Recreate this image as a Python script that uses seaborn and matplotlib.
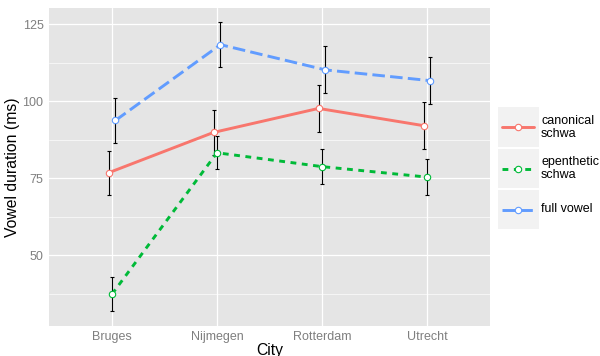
import pandas as pd
import seaborn as sns
import matplotlib.pyplot as plt
from matplotlib.patches import Rectangle
from matplotlib.lines import Line2D
from matplotlib.ticker import FixedLocator

# data
cities = ['Bruges', 'Nijmegen', 'Rotterdam', 'Utrecht']
vowel_types = ['canonical schwa', 'epenthetic schwa', 'full vowel']
legend_labels = ['canonical\nschwa', 'epenthetic\nschwa', 'full vowel']

canonical = [76.7, 89.8, 97.6, 92.0]
canonical_err = [7.2, 7.2, 7.6, 7.6]
epenthetic = [37.3, 83.2, 78.7, 75.3]
epenthetic_err = [5.5, 5.3, 5.8, 5.9]
full_vowel = [93.7, 118.3, 110.1, 106.6]
full_vowel_err = [7.2, 7.2, 7.6, 7.7]

colors = ['#F8766D', '#00BA38', '#619CFF']
styles = ['-', (0, (2.0, 1.9)), (0, (4.3, 1.8))]
dodge = [-0.033, 0.0, 0.033]

rows = []
for t, vals, errs in zip(vowel_types, [canonical, epenthetic, full_vowel],
                         [canonical_err, epenthetic_err, full_vowel_err]):
    for i, c in enumerate(cities):
        rows.append({'City': c, 'type': t, 'dur': vals[i], 'err': errs[i], 'idx': i})
df = pd.DataFrame(rows)

sns.set_theme(style='darkgrid', rc={
    'axes.facecolor': '#E5E5E5',
    'grid.color': 'white',
    'grid.linewidth': 0.9,
})
plt.rcParams['font.family'] = ['Liberation Sans', 'DejaVu Sans']

fig = plt.figure(figsize=(6, 3.56), dpi=100)
ax = fig.add_axes([49/600, 1 - 325.7/356, 441/600, 317.7/356])

for k, t in enumerate(vowel_types):
    sub = df[df['type'] == t].copy()
    sub['x'] = sub['idx'] + dodge[k]
    ax.errorbar(sub['x'], sub['dur'], yerr=sub['err'], fmt='none', ecolor='black',
                elinewidth=0.8, capsize=1.6, capthick=0.8, zorder=2)
    sns.lineplot(data=sub, x='x', y='dur', ax=ax, color=colors[k], lw=2.1,
                 linestyle=styles[k], marker='o', ms=4.6, mfc='white',
                 mec=colors[k], mew=0.8, errorbar=None, legend=False, zorder=3)

ax.set_xlim(-0.6, 3.6)
ax.set_ylim(27.05, 130.2)
ax.set_xticks(range(len(cities)))
ax.set_xticklabels(cities)
ax.set_yticks([50, 75, 100, 125])
ax.yaxis.set_minor_locator(FixedLocator([37.5, 62.5, 87.5, 112.5]))
ax.grid(which='minor', axis='y', color='white', lw=0.45)
ax.grid(which='major', color='white', lw=0.9)
ax.tick_params(which='major', length=2.5, width=0.7, color='#7F7F7F',
               labelcolor='#7F7F7F', labelsize=9, pad=1.5)
ax.tick_params(which='minor', length=0)
for s in ax.spines.values():
    s.set_visible(False)
ax.set_xlabel('City', fontsize=11.3, color='black', labelpad=-0.5)
ax.set_ylabel('Vowel duration (ms)', fontsize=11.3, color='black', labelpad=2)

# legend drawn in figure pixel space
lax = fig.add_axes([0, 0, 1, 1], facecolor='none')
lax.set_xlim(0, 600)
lax.set_ylim(356, 0)
lax.axis('off')
key_top = [107.3, 148.5, 189.5]
for k in range(len(vowel_types)):
    y0 = key_top[k]
    lax.add_patch(Rectangle((498.3, y0), 40.7, 39.5, facecolor='#F2F2F2',
                            edgecolor='none'))
    yc = y0 + 20
    lax.add_line(Line2D([502, 534.3], [yc, yc], color=colors[k], lw=2.1,
                        linestyle=styles[k]))
    lax.plot([518.2], [yc], marker='o', ms=4.6, mfc='white', mec=colors[k],
             mew=0.8)
    lax.text(541, yc, legend_labels[k], fontsize=9, va='center', ha='left',
             linespacing=1.1, color='black')

plt.savefig('out.png', dpi=100)
